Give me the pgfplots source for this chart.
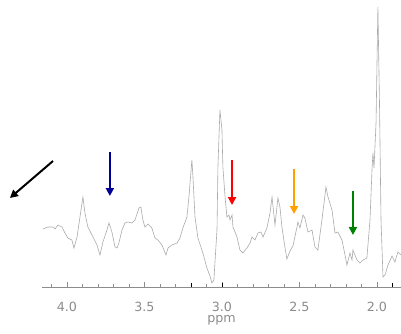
\documentclass[border=0pt]{standalone}
\usepackage{fontspec}
\setmainfont{DejaVu Sans}
\usepackage{pgfplots}
\pgfplotsset{compat=1.18}
\usetikzlibrary{arrows.meta}
\definecolor{specgray}{RGB}{170,170,170}
\definecolor{labgray}{RGB}{140,140,140}
\definecolor{navyarrow}{RGB}{0,0,150}
\definecolor{orangearrow}{RGB}{255,160,0}
\definecolor{greenarrow}{RGB}{0,128,0}
\begin{document}
\begin{tikzpicture}
\begin{axis}[
  at={(0,0)}, anchor=south west,
  scale only axis,
  width=269.25pt, height=215.25pt,
  x dir=reverse,
  xmin=1.845, xmax=4.161,
  ymin=0, ymax=287,
  axis x line=bottom,
  axis y line=none,
  axis line style={-, labgray, line width=0.6pt},
  tick align=inside,
  xtick={2.0,2.5,3.0,3.5,4.0},
  xticklabels={2.0,2.5,3.0,3.5,4.0},
  minor xtick={1.9,2.1,2.2,2.3,2.4,2.6,2.7,2.8,2.9,3.1,3.2,3.3,3.4,3.6,3.7,3.8,3.9,4.1},
  major tick length=3.75pt,
  minor tick length=2.2pt,
  tick style={labgray, line width=0.5pt},
  extra x ticks={3.2,3.0,1.9},
  extra x tick labels={},
  extra x tick style={tick style={black, line width=0.6pt}, major tick length=3pt},
  /pgf/number format/assume math mode=true,
  xticklabel style={font=\fontsize{9.5}{11}\selectfont, text=labgray, yshift=-7.5pt},
  xlabel={ppm},
  xlabel style={font=\fontsize{9.5}{11}\selectfont, text=labgray, yshift=3.5pt},
  clip=false,
]
\addplot[specgray, line width=0.45pt] coordinates {
(4.155,58) (4.123,60) (4.090,60) (4.077,58) (4.058,62) (4.032,60) (4.013,54) (3.994,49)
(3.968,47) (3.955,39) (3.935,50) (3.916,70) (3.897,90) (3.884,74) (3.865,60) (3.832,50)
(3.806,42) (3.787,32) (3.768,45) (3.742,57) (3.729,64) (3.710,55) (3.690,40) (3.677,39)
(3.665,44) (3.645,57) (3.626,64) (3.606,65) (3.581,64) (3.561,67) (3.535,79) (3.523,80)
(3.510,67) (3.497,60) (3.477,63) (3.452,59) (3.432,49) (3.413,47) (3.387,42) (3.361,32)
(3.348,39) (3.323,42) (3.290,44) (3.271,49) (3.252,59) (3.226,70) (3.213,90) (3.194,127)
(3.187,110) (3.174,70) (3.155,49) (3.123,34) (3.097,19) (3.077,11) (3.065,4) (3.052,7)
(3.045,25) (3.032,57) (3.026,120) (3.013,177) (3.000,157) (2.994,120) (2.981,92) (2.968,70)
(2.955,72) (2.948,67) (2.935,72) (2.929,60) (2.903,50) (2.884,37) (2.865,34) (2.839,39)
(2.819,44) (2.806,50) (2.787,47) (2.768,54) (2.748,55) (2.735,50) (2.710,59) (2.690,74)
(2.677,90) (2.658,62) (2.639,89) (2.626,80) (2.613,60) (2.594,40) (2.581,28) (2.561,36)
(2.542,41) (2.516,60) (2.510,65) (2.497,59) (2.477,72) (2.465,69) (2.445,55) (2.419,57)
(2.400,40) (2.381,37) (2.355,67) (2.329,100) (2.316,90) (2.290,77) (2.271,54) (2.252,55)
(2.226,47) (2.206,32) (2.194,22) (2.174,34) (2.161,27) (2.155,37) (2.129,27) (2.110,24)
(2.090,27) (2.065,29) (2.045,67) (2.032,117) (2.026,134) (2.019,119) (2.006,164) (1.994,280)
(1.984,187) (1.974,67) (1.961,10) (1.948,12) (1.929,22) (1.903,31) (1.884,25) (1.865,35)
(1.845,32)
};
\draw[black, line width=1.5pt, -{Triangle[length=6pt,width=6pt]}] (axis cs:4.090,126) -- (axis cs:4.368,89);
\draw[navyarrow, line width=1.5pt, -{Triangle[length=6pt,width=6pt]}] (axis cs:3.723,135) -- (axis cs:3.723,91);
\draw[red, line width=1.5pt, -{Triangle[length=6pt,width=6pt]}] (axis cs:2.935,127) -- (axis cs:2.935,82);
\draw[orangearrow, line width=1.5pt, -{Triangle[length=6pt,width=6pt]}] (axis cs:2.535,118) -- (axis cs:2.535,73);
\draw[greenarrow, line width=1.5pt, -{Triangle[length=6pt,width=6pt]}] (axis cs:2.155,96) -- (axis cs:2.155,52);
\end{axis}
\pgfresetboundingbox
\path (-31.5pt,-34.5pt) rectangle (269.25pt,215.25pt);
\end{tikzpicture}
\end{document}
